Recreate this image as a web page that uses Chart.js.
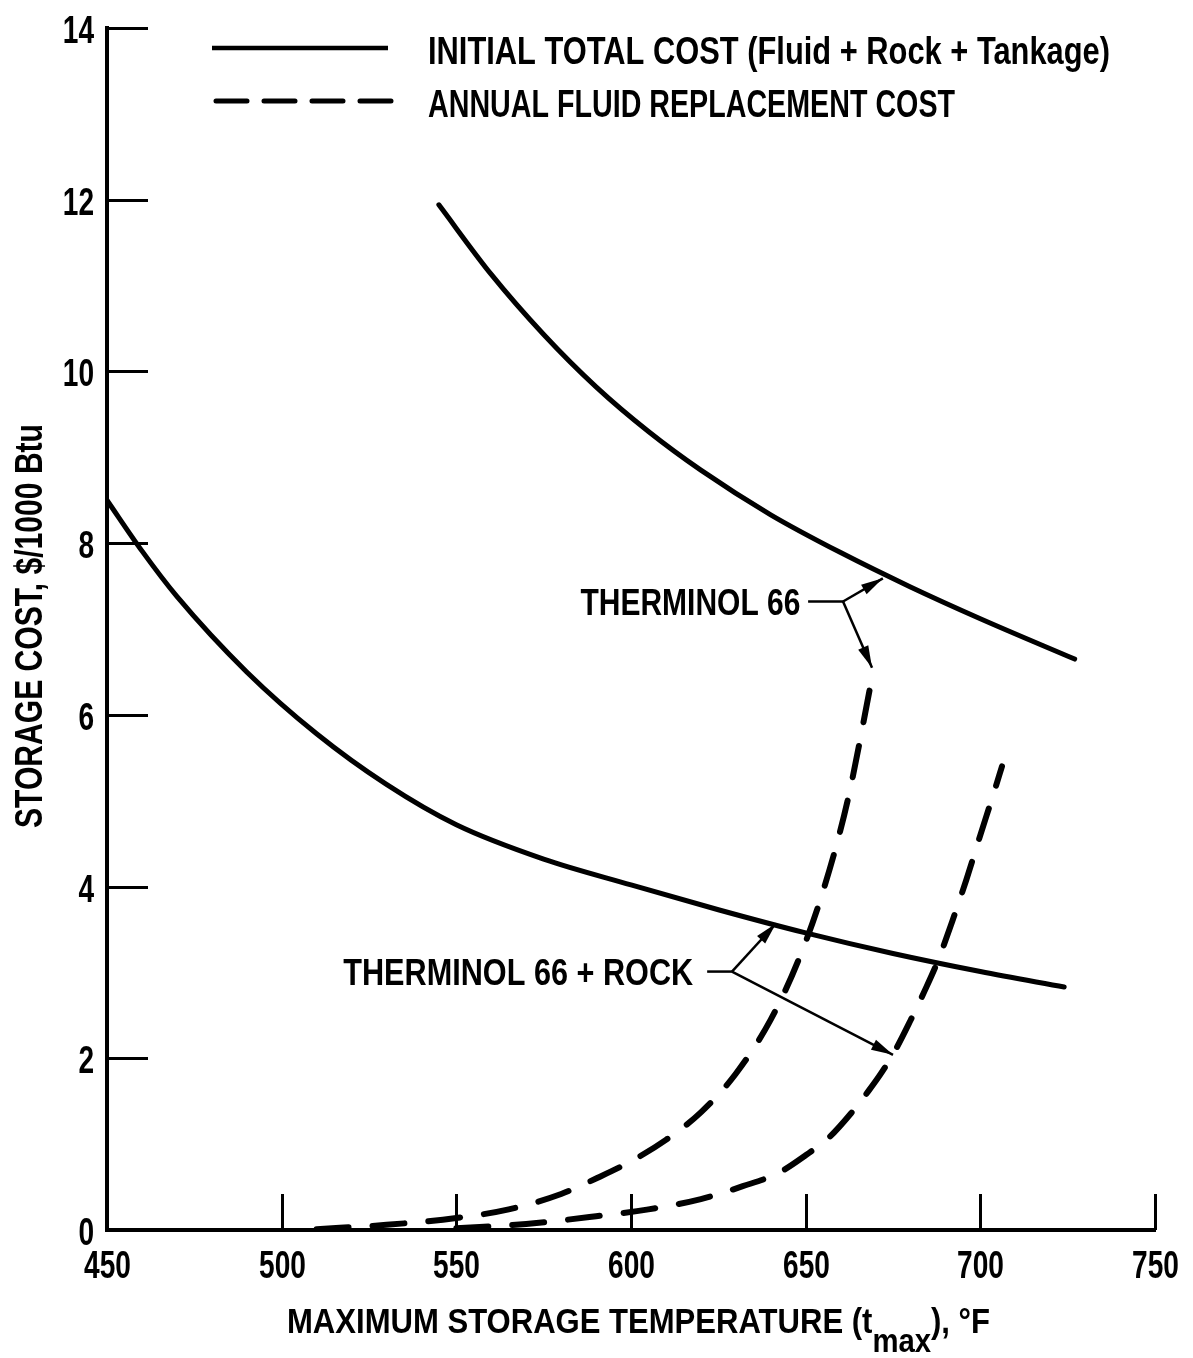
<!DOCTYPE html>
<html><head><meta charset="utf-8">
<script src="https://cdn.jsdelivr.net/npm/chart.js@4.4.1/dist/chart.umd.min.js"></script>
<style>html,body{margin:0;padding:0;background:#fff;}#wrap{width:1193px;height:1358px;}</style>
</head><body><div id="wrap"><canvas id="c" width="1193" height="1358"></canvas></div>
<script>
// ---- data ----
const xTicks = [450, 500, 550, 600, 650, 700, 750];
const yTicks = [0, 2, 4, 6, 8, 10, 12, 14];

// Initial total cost, Therminol 66 (solid, upper)
const th66TotalT = [545, 560, 575, 590, 605, 620, 640, 660, 680, 700, 727];
const th66TotalV = [11.94, 11.13, 10.43, 9.82, 9.30, 8.85, 8.33, 7.89, 7.49, 7.12, 6.65];

// Initial total cost, Therminol 66 + rock (solid, lower)
const rockTotalT = [450, 460, 470, 490, 510, 530, 550, 575, 600, 625, 650, 675, 700, 724];
const rockTotalV = [8.50, 7.91, 7.38, 6.50, 5.78, 5.19, 4.72, 4.32, 4.02, 3.73, 3.46, 3.22, 3.01, 2.83];

// Annual fluid replacement cost, Therminol 66 (dashed, left)
const th66AnnualT = [510, 530, 550, 565, 580, 590, 600, 610, 620, 630, 640, 648, 655, 662, 669.5];
const th66AnnualV = [0.01, 0.06, 0.14, 0.24, 0.42, 0.60, 0.80, 1.05, 1.37, 1.82, 2.45, 3.15, 3.95, 5.00, 6.54];

// Annual fluid replacement cost, Therminol 66 + rock (dashed, right)
const rockAnnualT = [550, 570, 590, 605, 620, 632, 642, 650, 657, 663, 668, 672, 676, 680, 684, 688, 692, 696, 700, 704, 706.2];
const rockAnnualV = [0.02, 0.07, 0.16, 0.24, 0.36, 0.51, 0.66, 0.87, 1.09, 1.36, 1.62, 1.85, 2.12, 2.44, 2.78, 3.15, 3.60, 4.08, 4.60, 5.11, 5.40];

const legendLabels = ['INITIAL TOTAL COST (Fluid + Rock + Tankage)', 'ANNUAL FLUID REPLACEMENT COST'];
const xTitleParts = ['MAXIMUM STORAGE TEMPERATURE (t', 'max', '), °F'];
const yTitle = 'STORAGE COST, $/1000 Btu';
const noteLabels = ['THERMINOL 66', 'THERMINOL 66 + ROCK'];

// ---- build ----
const zip = (xs, ys) => xs.map((x, i) => ({x: x, y: ys[i]}));
const FONT = '"Liberation Sans",Arial,sans-serif';

function fitText(ctx, text, x, y, width, size) {
  ctx.save();
  ctx.font = 'bold ' + size + 'px ' + FONT;
  const w = ctx.measureText(text).width;
  ctx.translate(x, y);
  ctx.scale(width / w, 1);
  ctx.textAlign = 'left';
  ctx.textBaseline = 'alphabetic';
  ctx.fillText(text, 0, 0);
  ctx.restore();
}
function squeezeText(ctx, text, x, y, size, sx, align) {
  ctx.save();
  ctx.font = 'bold ' + size + 'px ' + FONT;
  const w = ctx.measureText(text).width * sx;
  const left = align === 'center' ? x - w / 2 : (align === 'right' ? x - w : x);
  ctx.translate(left, y);
  ctx.scale(sx, 1);
  ctx.textAlign = 'left';
  ctx.textBaseline = 'alphabetic';
  ctx.fillText(text, 0, 0);
  ctx.restore();
}
function arrow(ctx, x1, y1, x2, y2) {
  ctx.beginPath(); ctx.moveTo(x1, y1); ctx.lineTo(x2, y2); ctx.stroke();
  const a = Math.atan2(y2 - y1, x2 - x1), L = 22, W = 5.5;
  ctx.beginPath();
  ctx.moveTo(x2, y2);
  ctx.lineTo(x2 - L * Math.cos(a) + W * Math.sin(a), y2 - L * Math.sin(a) - W * Math.cos(a));
  ctx.lineTo(x2 - L * Math.cos(a) - W * Math.sin(a), y2 - L * Math.sin(a) + W * Math.cos(a));
  ctx.closePath(); ctx.fill();
}

// annotation anchors in data units
const notes = [
  {text: noteLabels[0], right: [648.5, 7.32], lead: [650.7, 7.32], branch: [660.7, 7.32], tips: [[672.1, 7.59], [669.0, 6.55]], width: 220},
  {text: noteLabels[1], right: [617.8, 3.01], lead: [621.8, 3.01], branch: [628.9, 3.01], tips: [[641.5, 3.57], [675.0, 2.04]], width: 350}
];

const decor = {
  id: 'decor',
  beforeDraw(chart) {
    const c = chart.ctx; c.save(); c.fillStyle = '#fff'; c.fillRect(0, 0, chart.width, chart.height); c.restore();
  },
  afterDraw(chart) {
    const c = chart.ctx, xs = chart.scales.x, ys = chart.scales.y, ca = chart.chartArea;
    c.save();
    c.strokeStyle = '#000'; c.fillStyle = '#000';
    // inward tick marks + tick labels from the scales
    c.lineWidth = 3;
    xs.ticks.forEach(t => {
      const p = Math.round(xs.getPixelForValue(t.value)) + 0.5;
      if (t.value !== xs.min) { c.beginPath(); c.moveTo(p, ca.bottom); c.lineTo(p, ca.bottom - 36); c.stroke(); }
      squeezeText(c, String(t.value), p, ca.bottom + 48, 39, 0.72, 'center');
    });
    ys.ticks.forEach(t => {
      const p = Math.round(ys.getPixelForValue(t.value)) + 0.5;
      if (t.value !== ys.min) { c.beginPath(); c.moveTo(ca.left, p); c.lineTo(ca.left + 41, p); c.stroke(); }
      squeezeText(c, String(t.value), ca.left - 13, p + 14, 39, 0.72, 'right');
    });
    // legend
    c.lineCap = 'butt';
    c.lineWidth = 4.5;
    c.beginPath(); c.moveTo(212, 48); c.lineTo(388, 48); c.stroke();
    c.lineWidth = 5; c.lineCap = 'round'; c.setLineDash([31, 17]);
    c.beginPath(); c.moveTo(216, 101); c.lineTo(392, 101); c.stroke();
    c.setLineDash([]); c.lineCap = 'butt';
    fitText(c, legendLabels[0], 428, 64, 682, 38);
    fitText(c, legendLabels[1], 428, 117, 527, 38);
    // y title
    c.save();
    c.translate(42, 828); c.rotate(-Math.PI / 2);
    fitText(c, yTitle, 0, 0, 404, 38);
    c.restore();
    // x title with subscript
    c.save();
    const mainF = 'bold 35px ' + FONT, subF = 'bold 33px ' + FONT;
    c.font = mainF; const w0 = c.measureText(xTitleParts[0]).width, w2 = c.measureText(xTitleParts[2]).width;
    c.font = subF; const w1 = c.measureText(xTitleParts[1]).width;
    const sx = 703 / (w0 + w1 + w2);
    c.translate(287, 1333); c.scale(sx, 1);
    c.textBaseline = 'alphabetic';
    c.font = mainF; c.fillText(xTitleParts[0], 0, 0);
    c.font = subF; c.fillText(xTitleParts[1], w0, 19);
    c.font = mainF; c.fillText(xTitleParts[2], w0 + w1, 0);
    c.restore();
    // annotations
    c.lineWidth = 2.5;
    notes.forEach(n => {
      const px = p => [xs.getPixelForValue(p[0]), ys.getPixelForValue(p[1])];
      const r = px(n.right), l = px(n.lead), b = px(n.branch);
      fitText(c, n.text, r[0] - n.width, r[1] + 13.5, n.width, 37);
      c.beginPath(); c.moveTo(l[0], l[1]); c.lineTo(b[0], b[1]); c.stroke();
      n.tips.forEach(t => { const q = px(t); arrow(c, b[0], b[1], q[0], q[1]); });
    });
    c.restore();
  }
};

const solid = {borderColor: '#000', borderWidth: 5, pointRadius: 0, fill: false, cubicInterpolationMode: 'monotone', borderCapStyle: 'round'};
const dashed = {borderColor: '#000', borderWidth: 6, pointRadius: 0, fill: false, cubicInterpolationMode: 'monotone', borderDash: [32, 24], borderCapStyle: 'round'};
const zeroPad = s => { s.paddingTop = 0; s.paddingBottom = 0; s.paddingLeft = 0; s.paddingRight = 0; };

new Chart(document.getElementById('c').getContext('2d'), {
  type: 'line',
  data: {datasets: [
    Object.assign({label: 'Therminol 66 – initial total cost', data: zip(th66TotalT, th66TotalV)}, solid),
    Object.assign({label: 'Therminol 66 + rock – initial total cost', data: zip(rockTotalT, rockTotalV)}, solid),
    Object.assign({label: 'Therminol 66 – annual fluid replacement cost', data: zip(th66AnnualT, th66AnnualV)}, dashed),
    Object.assign({label: 'Therminol 66 + rock – annual fluid replacement cost', data: zip(rockAnnualT, rockAnnualV)}, dashed)
  ]},
  options: {
    responsive: false, animation: false, devicePixelRatio: 1,
    layout: {padding: {top: 28, right: 38, left: 0, bottom: 0}},
    plugins: {legend: {display: false}, tooltip: {enabled: false}, title: {display: false}},
    scales: {
      x: {type: 'linear', min: 450, max: 750,
        afterBuildTicks: s => { s.ticks = xTicks.map(v => ({value: v})); },
        afterFit: s => { s.height = 128; zeroPad(s); },
        grid: {display: false, drawTicks: false},
        border: {display: true, color: '#000', width: 4},
        ticks: {display: false}},
      y: {type: 'linear', min: 0, max: 14,
        afterBuildTicks: s => { s.ticks = yTicks.map(v => ({value: v})); },
        afterFit: s => { s.width = 107; zeroPad(s); },
        grid: {display: false, drawTicks: false},
        border: {display: true, color: '#000', width: 4},
        ticks: {display: false}}
    }
  },
  plugins: [decor]
});
</script></body></html>
